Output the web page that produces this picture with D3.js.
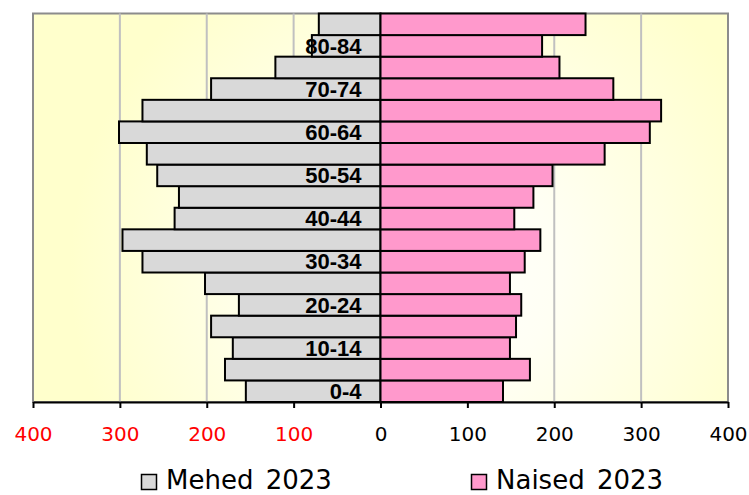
<!DOCTYPE html>
<html>
<head>
<meta charset="utf-8">
<script src="https://cdn.jsdelivr.net/npm/d3@7"></script>
<style>
	html, body { margin: 0; padding: 0; background: #fff; }
	svg { display: block; }
	.tick text { font-family: "DejaVu Sans", Verdana, sans-serif; font-size: 20px; }
	.agelabel { font-family: "Liberation Sans", Arial, sans-serif; font-size: 22px; font-weight: bold; }
	.legend text { font-family: "DejaVu Sans", Verdana, sans-serif; font-size: 26px; word-spacing: 4px; }
</style>
</head>
<body>
<div id="chart"></div>
<script>

var ages = ["0-4", "5-9", "10-14", "15-19", "20-24", "25-29", "30-34", "35-39", "40-44",
	"45-49", "50-54", "55-59", "60-64", "65-69", "70-74", "75-79", "80-84", "85+"];

var men = [155, 179, 170, 195, 163, 202, 274, 297, 237, 232, 257, 269, 301, 274, 195, 121, 79, 71];
var women = [141, 172, 149, 156, 162, 149, 166, 184, 154, 176, 198, 258, 310, 323, 268, 206, 186, 236];

var labelAges = ["0-4", "10-14", "20-24", "30-34", "40-44", "50-54", "60-64", "70-74", "80-84"];
var tickValues = [-400, -300, -200, -100, 0, 100, 200, 300, 400];
var seriesNames = ["Mehed 2023", "Naised 2023"];
var colors = ["#D9D9D9", "#FF99CC"];


var width = 749, height = 495,
	plot = {left: 33, right: 728, top: 13.5, bottom: 402};

var svg = d3.select("#chart")
	.append("svg")
		.attr("width", width)
		.attr("height", height);

// background gradient of the plot area
var grad = svg.append("defs").append("radialGradient")
	.attr("id", "bg")
	.attr("gradientUnits", "userSpaceOnUse")
	.attr("cx", 430).attr("cy", 270).attr("r", 360);
grad.append("stop").attr("offset", "0").attr("stop-color", "#FFFFFF");
grad.append("stop").attr("offset", "0.35").attr("stop-color", "#FFFFF4");
grad.append("stop").attr("offset", "1").attr("stop-color", "#FFFFCC");

var x = d3.scaleLinear().domain([-400, 400]).range([plot.left, plot.right]);
var y = d3.scaleBand().domain(ages.slice().reverse()).range([plot.top, plot.bottom]);

svg.append("rect")
	.attr("x", plot.left)
	.attr("y", plot.top)
	.attr("width", plot.right - plot.left)
	.attr("height", plot.bottom - plot.top)
	.attr("fill", "url(#bg)")
	.attr("stroke", "#8C8C8C")
	.attr("stroke-width", 2);

svg.append("g")
	.selectAll("line")
	.data(tickValues.filter(function(d) { return Math.abs(d) != 400; }))
	.enter().append("line")
		.attr("x1", function(d) { return x(d); })
		.attr("x2", function(d) { return x(d); })
		.attr("y1", plot.top)
		.attr("y2", plot.bottom)
		.attr("stroke", "#C0C0C0")
		.attr("stroke-width", 2);

// bars
svg.append("g")
	.selectAll("rect")
	.data(ages)
	.enter().append("rect")
		.attr("x", function(d, i) { return x(-men[i]); })
		.attr("y", function(d) { return y(d); })
		.attr("width", function(d, i) { return x(0) - x(-men[i]); })
		.attr("height", y.bandwidth())
		.attr("fill", colors[0])
		.attr("stroke", "#000")
		.attr("stroke-width", 2);

svg.append("g")
	.selectAll("rect")
	.data(ages)
	.enter().append("rect")
		.attr("x", x(0))
		.attr("y", function(d) { return y(d); })
		.attr("width", function(d, i) { return x(women[i]) - x(0); })
		.attr("height", y.bandwidth())
		.attr("fill", colors[1])
		.attr("stroke", "#000")
		.attr("stroke-width", 2);

// age labels
svg.append("g")
	.selectAll("text")
	.data(labelAges)
	.enter().append("text")
		.attr("class", "agelabel")
		.attr("x", x(0) - 19)
		.attr("y", function(d) { return y(d) + y.bandwidth() / 2; })
		.attr("dy", "0.35em")
		.attr("text-anchor", "end")
		.attr("fill", "#000")
		.text(function(d) { return d; });

// x axis
var xAxis = d3.axisBottom().scale(x)
	.tickValues(tickValues)
	.tickSize(6)
	.tickSizeOuter(0)
	.tickPadding(19)
	.tickFormat(function(d) { return Math.abs(d); });

var axis = svg.append("g")
	.attr("class", "x axis")
	.attr("transform", "translate(0," + plot.bottom + ")")
	.call(xAxis);

axis.select(".domain").attr("stroke", "#000").attr("stroke-width", 2);
axis.selectAll(".tick line").attr("stroke", "#000").attr("stroke-width", 2);
axis.selectAll(".tick text")
	.attr("fill", function(d) { return d < 0 ? "#FF0000" : "#000"; });

// legend
var legend = svg.append("g").attr("class", "legend")
	.selectAll("g")
	.data(seriesNames)
	.enter().append("g")
		.attr("transform", function(d, i) { return "translate(" + [141, 471][i] + ",0)"; });

legend.append("rect")
	.attr("x", 0.5)
	.attr("y", 474.5)
	.attr("width", 15)
	.attr("height", 15)
	.attr("fill", function(d, i) { return colors[i]; })
	.attr("stroke", "#000")
	.attr("stroke-width", 1.5);

legend.append("text")
	.attr("x", 25)
	.attr("y", 489)
	.attr("fill", "#000")
	.text(function(d) { return d; });

</script>
</body>
</html>
